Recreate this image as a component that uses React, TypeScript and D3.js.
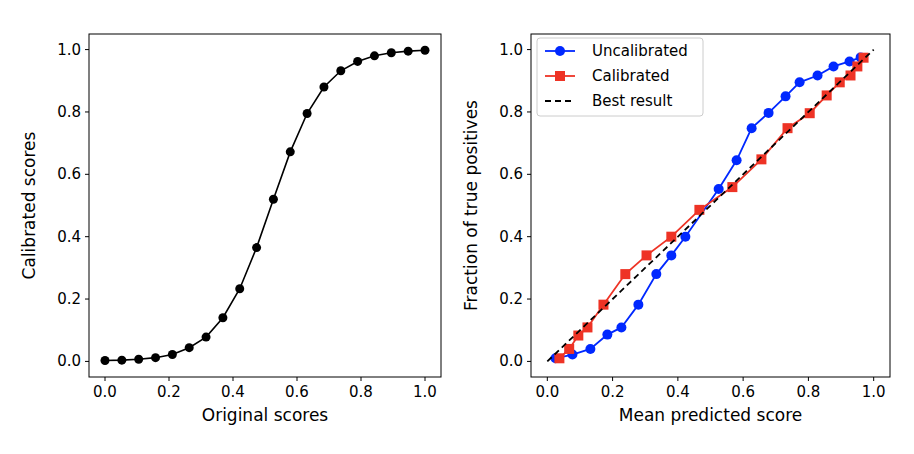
import React from 'react'
import * as d3 from 'd3'

const origX = d3.range(20).map(i => i / 19)
const calibY = [0.003, 0.004, 0.007, 0.012, 0.022, 0.044, 0.078, 0.14, 0.233, 0.365, 0.52, 0.672, 0.795, 0.88, 0.932, 0.962, 0.98, 0.99, 0.995, 0.998]

const uncalX = [0.025, 0.077, 0.132, 0.184, 0.227, 0.279, 0.334, 0.38, 0.423, 0.525, 0.58, 0.626, 0.678, 0.73, 0.773, 0.828, 0.877, 0.926, 0.96]
const uncalY = [0.01, 0.022, 0.04, 0.086, 0.109, 0.182, 0.28, 0.34, 0.40, 0.553, 0.645, 0.748, 0.797, 0.85, 0.895, 0.917, 0.946, 0.962, 0.975]
const calX = [0.037, 0.067, 0.095, 0.123, 0.172, 0.239, 0.304, 0.38, 0.466, 0.567, 0.656, 0.736, 0.804, 0.856, 0.896, 0.929, 0.95, 0.969]
const calY = [0.01, 0.04, 0.083, 0.109, 0.182, 0.28, 0.34, 0.40, 0.486, 0.559, 0.648, 0.748, 0.796, 0.853, 0.895, 0.917, 0.946, 0.974]

const ticks = [0, 0.2, 0.4, 0.6, 0.8, 1.0]
const font = 'DejaVu Sans'

function Panel({ left, right, xLabel, yLabel, children }: any) {
  const top = 34, bottom = 377
  const x = d3.scaleLinear().domain([-0.05, 1.05]).range([left, right])
  const y = d3.scaleLinear().domain([-0.05, 1.05]).range([bottom, top])
  return (
    <g>
      {children(x, y)}
      <rect x={left} y={top} width={right - left} height={bottom - top} fill="none" stroke="#000" strokeWidth={1} />
      {ticks.map(t => (
        <g key={'x' + t}>
          <line x1={x(t)} x2={x(t)} y1={bottom} y2={bottom + 4} stroke="#000" />
          <text x={x(t)} y={bottom + 20} textAnchor="middle" fontSize={15} fontFamily={font}>{t.toFixed(1)}</text>
          <line x1={left - 4} x2={left} y1={y(t)} y2={y(t)} stroke="#000" />
          <text x={left - 8} y={y(t) + 5} textAnchor="end" fontSize={15} fontFamily={font}>{t.toFixed(1)}</text>
        </g>
      ))}
      <text x={(left + right) / 2} y={bottom + 44} textAnchor="middle" fontSize={17} fontFamily={font}>{xLabel}</text>
      <text transform={`translate(${left - 54},${(top + bottom) / 2}) rotate(-90)`} textAnchor="middle" fontSize={17} fontFamily={font}>{yLabel}</text>
    </g>
  )
}

export default function App() {
  const line = (x: any, y: any, xs: number[], ys: number[]) =>
    d3.line<number>().x(d => x(d)).y((_, i) => y(ys[i]))(xs) as string
  return (
    <svg width={914} height={454} style={{ display: 'block', margin: -8 }}>
      <rect width={914} height={454} fill="#fff" />
      <Panel left={89} right={441} xLabel="Original scores" yLabel="Calibrated scores">
        {(x: any, y: any) => (
          <g>
            <path d={line(x, y, origX, calibY)} fill="none" stroke="#000" strokeWidth={1.6} />
            {origX.map((d, i) => <circle key={i} cx={x(d)} cy={y(calibY[i])} r={4.5} fill="#000" />)}
          </g>
        )}
      </Panel>
      <Panel left={531} right={890} xLabel="Mean predicted score" yLabel="Fraction of true positives">
        {(x: any, y: any) => (
          <g>
            <path d={line(x, y, uncalX, uncalY)} fill="none" stroke="#0028ff" strokeWidth={1.8} />
            {uncalX.map((d, i) => <circle key={i} cx={x(d)} cy={y(uncalY[i])} r={5} fill="#0028ff" />)}
            <path d={line(x, y, calX, calY)} fill="none" stroke="#ee3325" strokeWidth={1.8} />
            {calX.map((d, i) => <rect key={i} x={x(d) - 5} y={y(calY[i]) - 5} width={10} height={10} fill="#ee3325" />)}
            <line x1={x(0)} y1={y(0)} x2={x(1)} y2={y(1)} stroke="#000" strokeWidth={1.8} strokeDasharray="6,4" />
            <g>
              <rect x={537} y={38} width={166} height={78} rx={3} fill="#fff" fillOpacity={0.85} stroke="#ccc" />
              <line x1={545} x2={575} y1={51} y2={51} stroke="#0028ff" strokeWidth={1.8} />
              <circle cx={560} cy={51} r={5} fill="#0028ff" />
              <text x={592} y={56} fontSize={15} fontFamily={font}>Uncalibrated</text>
              <line x1={545} x2={575} y1={76} y2={76} stroke="#ee3325" strokeWidth={1.8} />
              <rect x={555} y={71} width={10} height={10} fill="#ee3325" />
              <text x={592} y={81} fontSize={15} fontFamily={font}>Calibrated</text>
              <line x1={545} x2={575} y1={101} y2={101} stroke="#000" strokeWidth={1.8} strokeDasharray="6,4" />
              <text x={592} y={106} fontSize={15} fontFamily={font}>Best result</text>
            </g>
          </g>
        )}
      </Panel>
    </svg>
  )
}
